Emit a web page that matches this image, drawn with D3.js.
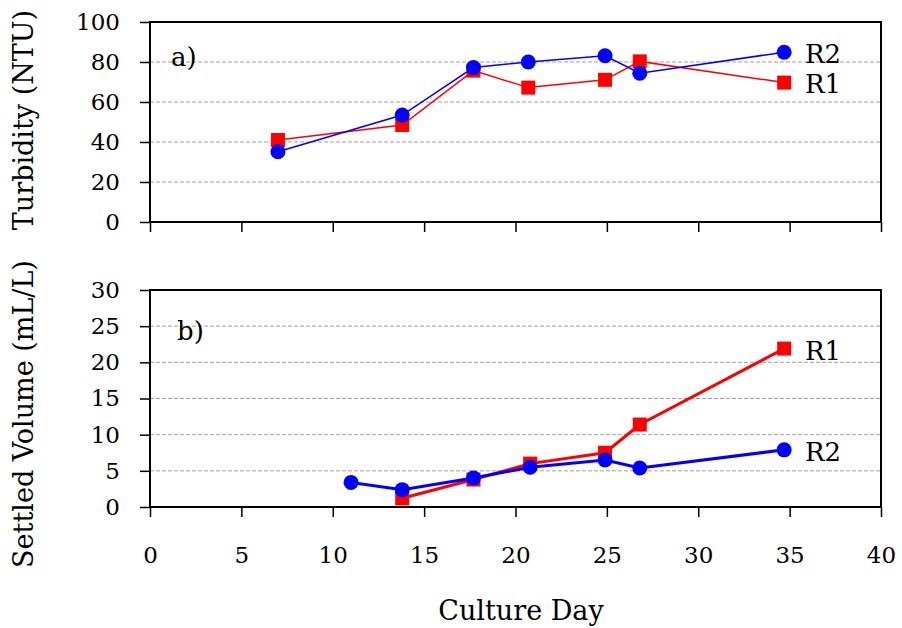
<!DOCTYPE html>
<html>
<head>
<meta charset="utf-8">
<script src="https://cdn.jsdelivr.net/npm/d3@7"></script>
<style>
    body { margin: 0; background: #fff; }
    text { font-family: "DejaVu Serif", Georgia, serif; fill: #000; }
</style>
</head>
<body>
<svg id="chart" width="902" height="628"></svg>
<script>
// ---- data ----
const days = [7, 13.8, 17.7, 20.7, 24.9, 26.8, 34.7];
const turbidityR1 = [41, 48.5, 75.7, 67.2, 71.1, 80.3, 69.7];
const turbidityR2 = [35.1, 53.5, 77.2, 80, 83.1, 74.4, 84.9];

const settledDaysR1 = [13.8, 17.7, 20.8, 24.9, 26.8, 34.7];
const settledR1 = [1.2, 3.8, 6.0, 7.5, 11.4, 21.9];
const settledDaysR2 = [11, 13.8, 17.7, 20.8, 24.9, 26.8, 34.7];
const settledR2 = [3.4, 2.4, 4.0, 5.5, 6.5, 5.4, 7.9];

const xTicks = [0, 5, 10, 15, 20, 25, 30, 35, 40];
const turbidityTicks = [0, 20, 40, 60, 80, 100];
const settledTicks = [0, 5, 10, 15, 20, 25, 30];

const red = "#ff0000";
const blue = "#0000ff";

let svg = d3.select("#chart");

// shared x scale for both panels
let x = d3.scaleLinear().domain([0, 40]).range([150, 881]);

/**
 * Draws one panel: frame, dashed grid, ticks and the two series.
 */
function drawPanel(cfg) {
    let y = d3.scaleLinear().domain(cfg.domain).range([cfg.bottom, cfg.top]);
    let g = svg.append("g");

    // dashed gridlines (skip 0 and the top)
    g.selectAll("line.grid")
        .data(cfg.yTicks.filter(t => t > cfg.domain[0] && t < cfg.domain[1]))
        .join("line")
        .attr("x1", x(0)).attr("x2", x(40))
        .attr("y1", d => y(d)).attr("y2", d => y(d))
        .attr("stroke", "#a0a0a0")
        .attr("stroke-width", 1)
        .attr("stroke-dasharray", "4,2");

    // y axis with outward ticks
    let yAxis = d3.axisLeft(y).tickValues(cfg.yTicks).tickSize(10).tickPadding(20);
    let yg = g.append("g").attr("transform", "translate(" + x(0) + ",0)").call(yAxis);
    yg.select(".domain").remove();
    yg.selectAll(".tick line").attr("stroke", "#000").attr("stroke-width", 1.5);
    yg.selectAll(".tick text")
        .attr("font-size", 23)
        .attr("font-family", "DejaVu Serif")
        .attr("fill", "#000");

    // x axis ticks pointing down
    let xAxis = d3.axisBottom(x).tickValues(xTicks).tickSize(10).tickPadding(30);
    let xg = g.append("g").attr("transform", "translate(0," + cfg.bottom + ")").call(xAxis);
    xg.select(".domain").remove();
    xg.selectAll(".tick line").attr("stroke", "#000").attr("stroke-width", 1.5);
    xg.selectAll(".tick text")
        .attr("font-size", 23)
        .attr("font-family", "DejaVu Serif")
        .attr("fill", "#000")
        .attr("opacity", cfg.xLabels ? 1 : 0);

    // plot frame
    g.append("rect")
        .attr("x", x(0)).attr("y", cfg.top)
        .attr("width", x(40) - x(0)).attr("height", cfg.bottom - cfg.top)
        .attr("fill", "none")
        .attr("stroke", "#000")
        .attr("stroke-width", 2);

    // series: R1 red squares first, R2 blue circles on top
    let line = d3.line().x(d => x(d[0])).y(d => y(d[1]));
    let r1 = d3.zip(cfg.r1Days, cfg.r1);
    let r2 = d3.zip(cfg.r2Days, cfg.r2);

    g.append("path").datum(r1).attr("d", line)
        .attr("fill", "none").attr("stroke", red).attr("stroke-width", cfg.lineWidth);
    g.selectAll("rect.r1").data(r1).join("rect")
        .attr("x", d => x(d[0]) - 7).attr("y", d => y(d[1]) - 7)
        .attr("width", 14).attr("height", 14)
        .attr("fill", red);

    g.append("path").datum(r2).attr("d", line)
        .attr("fill", "none").attr("stroke", blue).attr("stroke-width", cfg.lineWidth);
    g.selectAll("circle.r2").data(r2).join("circle")
        .attr("cx", d => x(d[0])).attr("cy", d => y(d[1]))
        .attr("r", 7.5)
        .attr("fill", blue);

    // series labels next to the last points
    g.append("text").attr("x", 805).attr("y", cfg.r1LabelY)
        .attr("font-size", 26).text("R1");
    g.append("text").attr("x", 805).attr("y", cfg.r2LabelY)
        .attr("font-size", 26).text("R2");

    // panel letter
    g.append("text").attr("x", cfg.letterX).attr("y", cfg.letterY)
        .attr("font-size", 26).text(cfg.letter);

    // y title
    g.append("text")
        .attr("transform", "translate(33," + cfg.titleY + ") rotate(-90)")
        .attr("text-anchor", "middle")
        .attr("font-size", 27)
        .text(cfg.title);
}

drawPanel({
    domain: [0, 100], top: 22, bottom: 222,
    yTicks: turbidityTicks, xLabels: false,
    r1Days: days, r1: turbidityR1, r2Days: days, r2: turbidityR2,
    lineWidth: 1.5,
    r1LabelY: 93, r2LabelY: 63,
    letter: "a)", letterX: 171, letterY: 66,
    title: "Turbidity (NTU)", titleY: 120
});

drawPanel({
    domain: [0, 30], top: 290, bottom: 507,
    yTicks: settledTicks, xLabels: true,
    r1Days: settledDaysR1, r1: settledR1, r2Days: settledDaysR2, r2: settledR2,
    lineWidth: 3,
    r1LabelY: 360, r2LabelY: 461,
    letter: "b)", letterX: 177, letterY: 340,
    title: "Settled Volume (mL/L)", titleY: 414
});

// shared x title
svg.append("text")
    .attr("x", 521).attr("y", 620)
    .attr("text-anchor", "middle")
    .attr("font-size", 27)
    .text("Culture Day");
</script>
</body>
</html>
